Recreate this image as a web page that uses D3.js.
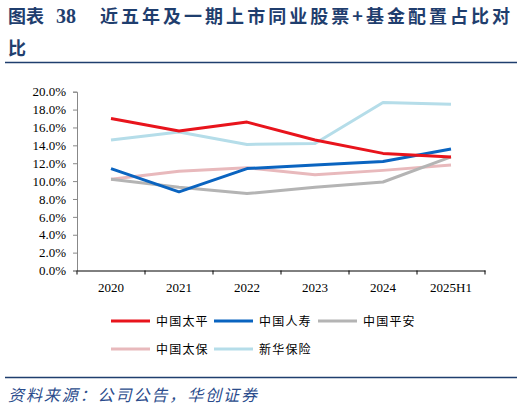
<!DOCTYPE html>
<html><head><meta charset="utf-8">
<script src="https://cdn.jsdelivr.net/npm/d3@7/dist/d3.min.js"></script>
<style>
html,body{margin:0;padding:0;background:#fff;}
svg{display:block;}
</style></head>
<body>
<svg id="chart" width="524" height="408"></svg>
<script>
const categories = ["2020","2021","2022","2023","2024","2025H1"];
const seriesNames = ["中国太平","中国人寿","中国平安","中国太保","新华保险"];
const taiping  = [17.0, 15.6, 16.6, 14.6, 13.1, 12.7];
const renshou  = [11.4,  8.8, 11.4, 11.8, 12.2, 13.6];
const pingan   = [10.2,  9.3,  8.6,  9.3,  9.9, 12.7];
const taibao   = [10.2, 11.1, 11.5, 10.7, 11.2, 11.8];
const xinhua   = [14.6, 15.5, 14.1, 14.2, 18.8, 18.6];
const yTicks = [0,2,4,6,8,10,12,14,16,18,20];
const colors = ["#E8141C","#0A64C0","#B4B4B4","#E8B9BC","#B5DDE9"];

const seriesValues = [taiping, renshou, pingan, taibao, xinhua];
const svg = d3.select("#chart");
const navy = "#1F3E6E";

// Title
const title = svg.append("text").attr("y", 23).attr("fill", navy)
  .attr("font-family", "'Noto Sans CJK SC', sans-serif").attr("font-weight", 700).attr("font-size", 18);
title.append("tspan").attr("x", 8).text("图表");
title.append("tspan").attr("x", 56).attr("font-family", "'Liberation Serif', serif").attr("font-size", 20).text("38");
title.append("tspan").attr("x", 100).attr("textLength", 410).attr("lengthAdjust", "spacing")
  .text("近五年及一期上市同业股票+基金配置占比对");
svg.append("text").attr("x", 8).attr("y", 55).attr("fill", navy)
  .attr("font-family", "'Noto Sans CJK SC', sans-serif").attr("font-weight", 700).attr("font-size", 18).text("比");
svg.append("line").attr("x1", 5).attr("x2", 517).attr("y1", 62.5).attr("y2", 62.5)
  .attr("stroke", navy).attr("stroke-width", 1.6);

// Scales
const x = d3.scaleBand().domain(categories).range([77, 485]);
const y = d3.scaleLinear().domain([0, 20]).range([270.5, 91.7]);

// Y axis
const yAxis = svg.append("g").attr("transform", "translate(77,0)")
  .call(d3.axisLeft(y).tickValues(yTicks).tickSize(4).tickPadding(7).tickFormat(d => d.toFixed(1) + "%"));
yAxis.select(".domain").attr("stroke", "#888");
yAxis.selectAll(".tick line").attr("stroke", "#888");
yAxis.selectAll("text").attr("font-family", "'Liberation Serif', serif").attr("font-size", 13).attr("fill", "#000");

// X axis
const xAxis = svg.append("g").attr("transform", "translate(0,270.5)")
  .call(d3.axisBottom(x).tickSize(0).tickPadding(12));
xAxis.select(".domain").attr("stroke", "#000");
xAxis.selectAll("text").attr("font-family", "'Liberation Serif', serif").attr("font-size", 13).attr("fill", "#000");
const bounds = categories.map(c => x(c)).concat([x.range()[1]]);
svg.append("g").selectAll("line").data(bounds).join("line")
  .attr("x1", d => d).attr("x2", d => d).attr("y1", 270.5).attr("y2", 274.5)
  .attr("stroke", "#000").attr("stroke-width", 1);

// Lines (draw order: light ones first? keep series order so red/blue on top)
const line = d3.line().x((d, i) => x(categories[i]) + x.bandwidth() / 2).y(d => y(d));
const order = [4, 3, 2, 1, 0];
svg.append("g").selectAll("path").data(order).join("path")
  .attr("d", k => line(seriesValues[k])).attr("fill", "none")
  .attr("stroke", k => colors[k]).attr("stroke-width", 3).attr("stroke-linejoin", "round");

// Legend
const legPos = [[111, 321], [214, 321], [318, 321], [111, 349], [214, 349]];
const leg = svg.append("g").selectAll("g").data(seriesNames).join("g")
  .attr("transform", (d, i) => `translate(${legPos[i][0]},${legPos[i][1]})`);
leg.append("line").attr("x1", 0).attr("x2", 39).attr("stroke", (d, i) => colors[i]).attr("stroke-width", 3);
leg.append("text").attr("x", 45).attr("y", 4.5).attr("font-family", "'Noto Sans CJK SC', sans-serif")
  .attr("font-size", 12).attr("letter-spacing", 1.2).attr("fill", "#000").text(d => d);

// Source
svg.append("line").attr("x1", 5).attr("x2", 517).attr("y1", 377.5).attr("y2", 377.5)
  .attr("stroke", navy).attr("stroke-width", 1.6);
svg.append("text").attr("x", 8).attr("y", 401).attr("fill", "#2B4C8C")
  .attr("font-family", "'Noto Sans CJK SC', sans-serif").attr("font-size", 16).attr("font-style", "italic")
  .attr("textLength", 249).attr("lengthAdjust", "spacing")
  .text("资料来源：公司公告，华创证券");
</script>
</body></html>
